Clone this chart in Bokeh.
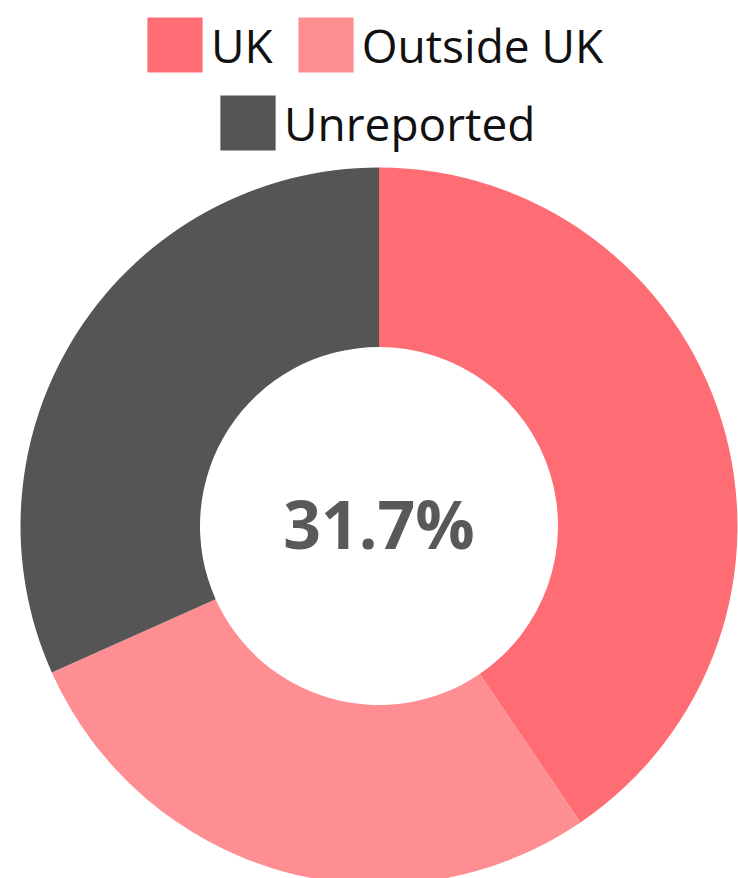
import math
from bokeh.plotting import figure
from bokeh.models import ColumnDataSource, Legend, LegendItem, Range1d
from bokeh.core.properties import value
from bokeh.embed import file_html
from bokeh.resources import INLINE

categories = ["UK", "Outside UK", "Unreported"]
shares = [40.5, 27.8, 31.7]
colors = ["#FF6D74", "#FF8E92", "#555555"]
center_label = f"{shares[2]:.1f}%"

W, H = 738, 878
total = sum(shares)
starts, ends = [], []
acc = 0.0
for s in shares:
    a0 = acc / total
    acc += s
    a1 = acc / total
    # clockwise from 12 o'clock
    starts.append(math.pi / 2 - a1 * 2 * math.pi)
    ends.append(math.pi / 2 - a0 * 2 * math.pi)

cx, cy = 378.5, H - 525.5
src = ColumnDataSource(dict(cat=categories, val=shares, color=colors,
                            start=starts, end=ends,
                            x=[cx] * 3, y=[cy] * 3))

p = figure(width=W, height=H, output_backend="svg", toolbar_location=None,
           x_range=Range1d(0, W), y_range=Range1d(0, H), min_border=0)
p.axis.visible = False
p.grid.visible = False
p.outline_line_color = None
p.background_fill_color = "white"
p.border_fill_color = "white"

r = p.annular_wedge(x="x", y="y", inner_radius=179, outer_radius=358.5,
                    start_angle="start", end_angle="end", fill_color="color",
                    line_color=None, source=src)

p.text(x=[cx], y=[cy + 3], text=[center_label], text_align="center",
       text_baseline="middle", text_font=value("Open Sans"),
       text_font_style="bold", text_font_size="66px", text_color="#595959")

def make_legend(items, loc):
    lg = Legend(items=items, location=loc, orientation="horizontal",
                glyph_width=69, glyph_height=69, label_height=69,
                label_text_font="Open Sans", label_text_font_size="46px",
                label_text_color="#111111", label_standoff=2, spacing=18,
                padding=0, margin=0, border_line_alpha=0,
                background_fill_alpha=0)
    return lg

leg1 = make_legend([LegendItem(label=categories[0], renderers=[r], index=0),
                    LegendItem(label=categories[1], renderers=[r], index=1)],
                   (140, H - 79))
leg2 = make_legend([LegendItem(label=categories[2], renderers=[r], index=2)],
                   (213, H - 157))
p.add_layout(leg1, "center")
p.add_layout(leg2, "center")

open("out.html", "w").write(file_html(p, INLINE))
